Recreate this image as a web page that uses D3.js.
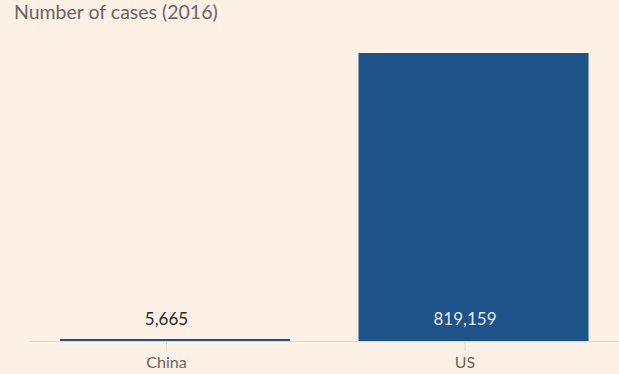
<!DOCTYPE html>
<html>
<head>
<meta charset="utf-8">
<script src="https://cdn.jsdelivr.net/npm/d3@7"></script>
<style>
  body { margin: 0; background: #fdf0e5; }
  text { font-family: Lato, "Open Sans", sans-serif; }
</style>
</head>
<body>
<script>
// chart data
var countries = ["China", "US"];
var cases = [5665, 819159];
var title = "Number of cases (2016)";

var w = 619;
var h = 374;
var pad = { top: 53, bottom: 33, left: 30 };

// bars sit a little right of their ticks in the original
var barShift = 8.5;

var svg = d3.select("body")
            .append("svg")
            .attr("width", w)
            .attr("height", h);

svg.append("rect")
   .attr("width", w)
   .attr("height", h)
   .attr("fill", "#fdf0e5");

var xScale = d3.scaleBand()
               .domain(countries)
               .range([21.65, 609.85])
               .paddingInner(0.2295)
               .paddingOuter(0.1);

var yScale = d3.scaleLinear()
               .domain([0, d3.max(cases)])
               .range([h - pad.bottom, pad.top]);

// title
svg.append("text")
   .attr("x", 14)
   .attr("y", 19)
   .attr("font-size", "19.5px")
   .attr("fill", "#6b6561")
   .text(title);

// x axis
var xAxis = d3.axisBottom(xScale).tickSize(10).tickPadding(6);

var gx = svg.append("g")
            .attr("transform", "translate(0," + yScale(0) + ")")
            .call(xAxis);

gx.select(".domain")
  .attr("stroke", "#e0d6cc")
  .attr("d", "M" + pad.left + ",0.5H" + w);
gx.selectAll(".tick line").attr("stroke", "#e0d6cc");
gx.selectAll(".tick text")
  .attr("font-size", "16px")
  .attr("font-family", "Lato, sans-serif")
  .attr("fill", "#6b6561");

// bars
svg.selectAll(".bar")
   .data(cases)
   .enter()
   .append("rect")
   .attr("class", "bar")
   .attr("x", function(d, i) { return xScale(countries[i]) + barShift; })
   .attr("y", function(d) { return yScale(d); })
   .attr("width", xScale.bandwidth())
   .attr("height", function(d) { return yScale(0) - yScale(d); })
   .attr("fill", "#1d5389");

// value labels
svg.selectAll(".val")
   .data(cases)
   .enter()
   .append("text")
   .attr("class", "val")
   .attr("x", function(d, i) { return xScale(countries[i]) + xScale.bandwidth() / 2; })
   .attr("y", yScale(0) - 16)
   .attr("text-anchor", "middle")
   .attr("font-size", "17px")
   .attr("fill", function(d, i) { return i === 1 ? "#e8eaf0" : "#2a2726"; })
   .text(function(d) { return d3.format(",")(d); });
</script>
</body>
</html>
